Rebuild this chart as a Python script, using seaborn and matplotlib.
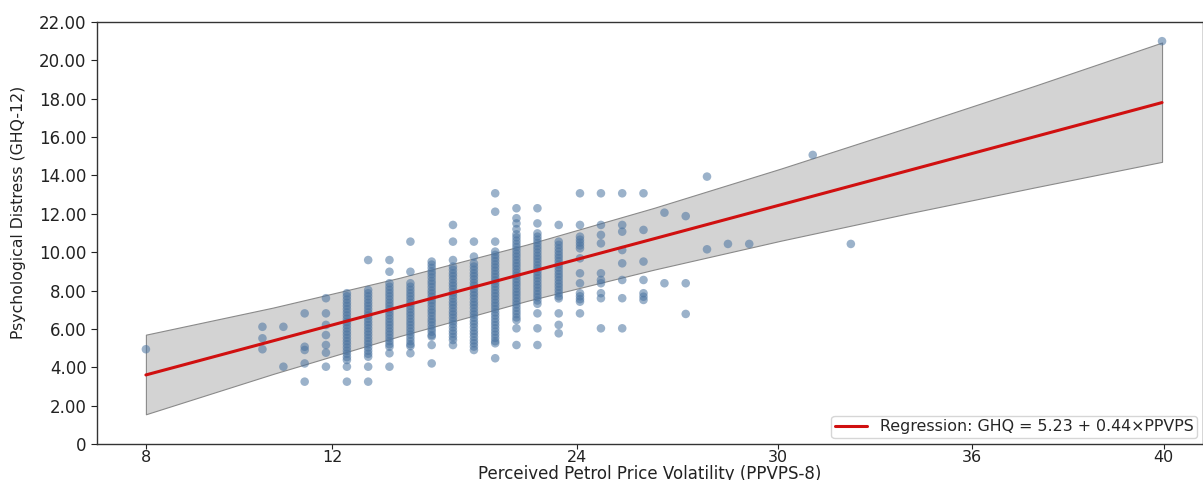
import matplotlib
matplotlib.use("Agg")
import matplotlib.pyplot as plt
import pandas as pd
import seaborn as sns

# ---- data ----
ppvps_levels = [8.0, 11.67, 12.33, 13.0, 13.67, 14.33, 15.0, 15.67, 16.33, 17.0,
                17.67, 18.33, 19.0, 19.67, 20.33, 21.0, 21.67, 22.33, 23.0, 23.67,
                24.33, 25.0, 25.67, 26.33, 27.0, 29.0, 30.2, 40.0]

ghq_by_level = [
    [4.94],
    [6.11, 5.51, 4.94],
    [6.11, 4.03],
    [6.81, 5.07, 4.90, 4.20, 3.25],
    [7.60, 6.81, 6.21, 5.68, 5.16, 4.76, 4.03],
    [7.86, 7.70, 7.53, 7.36, 7.20, 7.03, 6.86, 6.70, 6.53, 6.36, 6.20, 6.03, 5.86, 5.70,
     5.53, 5.36, 5.20, 5.03, 4.86, 4.70, 4.53, 4.38, 4.03, 3.25],
    [9.59, 8.03, 7.86, 7.70, 7.53, 7.36, 7.20, 7.03, 6.86, 6.70, 6.53, 6.36, 6.20, 6.03,
     5.86, 5.70, 5.53, 5.36, 5.20, 5.03, 4.86, 4.70, 4.55, 4.03, 3.25],
    [9.59, 8.98, 8.38, 8.20, 8.03, 7.86, 7.70, 7.53, 7.36, 7.20, 7.03, 6.86, 6.70, 6.53,
     6.36, 6.20, 6.03, 5.86, 5.70, 5.53, 5.36, 5.20, 5.07, 4.73, 4.03],
    [10.55, 8.98, 8.38, 8.20, 8.03, 7.86, 7.70, 7.53, 7.36, 7.20, 7.03, 6.86, 6.70, 6.53,
     6.36, 6.20, 6.03, 5.86, 5.70, 5.53, 5.36, 5.20, 5.10, 4.73],
    [9.51, 9.35, 9.18, 9.00, 8.85, 8.68, 8.50, 8.35, 8.18, 8.00, 7.85, 7.68, 7.50, 7.35,
     7.18, 7.00, 6.85, 6.68, 6.50, 6.35, 6.18, 6.00, 5.85, 5.68, 5.60, 5.16, 4.20],
    [11.42, 10.55, 9.59, 9.25, 9.08, 8.90, 8.75, 8.58, 8.40, 8.25, 8.08, 7.90, 7.75, 7.58,
     7.40, 7.25, 7.08, 6.90, 6.75, 6.58, 6.40, 6.25, 6.08, 5.90, 5.75, 5.58, 5.42, 5.16],
    [10.55, 9.77, 9.42, 9.25, 9.08, 8.90, 8.75, 8.58, 8.40, 8.25, 8.08, 7.90, 7.75, 7.58,
     7.40, 7.25, 7.08, 6.90, 6.75, 6.58, 6.40, 6.25, 6.08, 5.90, 5.75, 5.58, 5.40, 5.25,
     5.08, 4.90],
    [13.07, 12.11, 10.55, 10.03, 9.86, 9.70, 9.53, 9.36, 9.20, 9.03, 8.86, 8.70, 8.53,
     8.36, 8.20, 8.03, 7.86, 7.70, 7.53, 7.36, 7.20, 7.03, 6.86, 6.70, 6.53, 6.36, 6.20,
     6.03, 5.86, 5.70, 5.53, 5.36, 5.25, 4.47],
    [12.29, 11.77, 11.50, 11.20, 10.93, 10.77, 10.60, 10.43, 10.27, 10.10, 9.93, 9.77,
     9.60, 9.43, 9.27, 9.10, 8.93, 8.77, 8.60, 8.43, 8.27, 8.10, 7.93, 7.77, 7.60, 7.43,
     7.27, 7.10, 6.93, 6.77, 6.60, 6.46, 6.03, 5.16],
    [12.29, 11.50, 10.98, 10.81, 10.65, 10.48, 10.31, 10.15, 9.98, 9.81, 9.65, 9.48, 9.31,
     9.15, 8.98, 8.81, 8.65, 8.48, 8.31, 8.15, 7.98, 7.81, 7.65, 7.48, 7.31, 6.81, 6.03,
     5.16],
    [11.42, 10.55, 10.38, 10.20, 10.03, 9.86, 9.70, 9.53, 9.36, 9.20, 9.03, 8.86, 8.70,
     8.53, 8.36, 8.20, 8.03, 7.86, 7.70, 7.59, 6.81, 6.21, 5.77],
    [13.07, 11.42, 10.81, 10.65, 10.50, 10.35, 10.20, 9.68, 8.90, 8.38, 7.86, 7.70, 7.55,
     7.42, 6.81],
    [13.07, 11.42, 10.90, 10.46, 8.90, 8.55, 8.38, 7.86, 7.60, 6.03],
    [13.07, 11.42, 11.07, 10.11, 9.42, 8.55, 7.60, 6.03],
    [13.07, 11.16, 9.51, 8.55, 7.86, 7.68, 7.51],
    [12.06, 8.38],
    [11.88, 8.38, 6.78],
    [13.94, 10.15],
    [10.43],
    [10.43],
    [15.07],
    [10.43],
    [21.0],
]

fit_x = [8, 40]
fit_y = [3.6, 17.8]

band_x = [8, 12, 16, 20, 24, 28, 32, 36, 40]
band_lo = [1.55, 3.65, 5.63, 7.46, 9.09, 10.60, 12.02, 13.38, 14.71]
band_hi = [5.70, 7.11, 8.67, 10.40, 12.31, 14.36, 16.50, 18.68, 20.93]

x_tick_pos = [8, 13.86, 21.57, 27.9, 34.02, 40.05]
x_tick_labels = ["8", "12", "24", "30", "36", "40"]
y_ticks = [0, 2, 4, 6, 8, 10, 12, 14, 16, 18, 20, 22]
y_tick_labels = ["0", "2.00", "4.00", "6.00", "8.00", "10.00", "12.00",
                 "14.00", "16.00", "18.00", "20.00", "22.00"]

legend_label = "Regression: GHQ = 5.23 + 0.44\u00d7PPVPS"

rows = [(x, y) for x, ys in zip(ppvps_levels, ghq_by_level) for y in ys]
df = pd.DataFrame(rows, columns=["PPVPS", "GHQ"])

# ---- plotting ----
sns.set_style("ticks")
plt.rcParams["font.family"] = ["DejaVu Sans"]

W, H = 1203, 480
fig = plt.figure(figsize=(W / 100, H / 100), dpi=100)
ax = fig.add_axes([97 / W, 36 / H, 1 - 97 / W, (444 - 22) / H])

ax.fill_between(band_x, band_lo, band_hi, facecolor="#d3d3d3",
                edgecolor="#8a8a8a", linewidth=0.8, zorder=1)
sns.scatterplot(data=df, x="PPVPS", y="GHQ", ax=ax, color="#4a73a0",
                alpha=0.55, s=38, edgecolor="none", zorder=2, legend=False)
sns.lineplot(x=fit_x, y=fit_y, ax=ax, color="#d01010", linewidth=2.2,
             zorder=3, label=legend_label)

ax.set_xlim(6.46, 41.29)
ax.set_ylim(0, 22)
ax.set_xticks(x_tick_pos)
ax.set_xticklabels(x_tick_labels)
ax.set_yticks(y_ticks)
ax.set_yticklabels(y_tick_labels)
ax.tick_params(axis="both", labelsize=12, length=4, width=0.8, colors="#222222")
ax.tick_params(axis="x", length=3.5, pad=1, labelsize=11.5)

ax.set_xlabel("Perceived Petrol Price Volatility (PPVPS-8)", fontsize=12,
              color="#222222", labelpad=0)
ax.set_ylabel("Psychological Distress (GHQ-12)", fontsize=11.3, color="#222222")
ax.yaxis.set_label_coords(-0.064, 0.55)

for side in ["left", "bottom", "top", "right"]:
    ax.spines[side].set_color("#333333")
    ax.spines[side].set_linewidth(1.0)

leg = ax.legend(loc="lower right", fontsize=11.4, frameon=True, borderpad=0.25,
                borderaxespad=0.35, handlelength=2.0, fancybox=True)
leg.get_frame().set_edgecolor("#cccccc")

fig.savefig("out.png", dpi=100)
